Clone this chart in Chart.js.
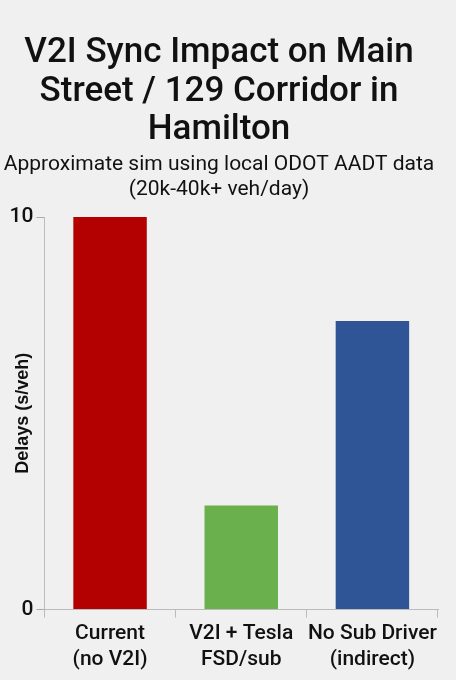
<!DOCTYPE html>
<html>
<head>
<meta charset="utf-8">
<script src="https://cdn.jsdelivr.net/npm/chart.js@4"></script>
<style>
  html, body { margin: 0; padding: 0; background: #f0f0f0; }
  #wrap { width: 456px; height: 680px; }
</style>
</head>
<body>
<div id="wrap"><canvas id="myChart"></canvas></div>
<script>
var categories = [["Current", "(no V2I)"], ["V2I + Tesla", "FSD/sub"], ["No Sub Driver", "(indirect)"]];
var delays = [10, 2.65, 7.35];
var barColors = ["#b30000", "#6ab04c", "#2f5597"];
var yTicks = [0, 10];

var ctx = document.getElementById("myChart").getContext("2d");
var chart = new Chart(ctx, {
  type: "bar",
  data: {
    labels: categories,
    datasets: [
      {
        label: "Delays",
        backgroundColor: barColors,
        data: delays,
        categoryPercentage: 1,
        barPercentage: 0.56
      }
    ]
  },
  options: {
    responsive: true,
    maintainAspectRatio: false,
    animation: false,
    layout: { padding: { left: 0, right: 18, top: 0, bottom: 4 } },
    plugins: {
      legend: { display: false },
      title: {
        display: true,
        text: ["V2I Sync Impact on Main", "Street / 129 Corridor in", "Hamilton"],
        color: "#111",
        font: { family: "Roboto", size: 35, weight: "500", lineHeight: 1.1 },
        padding: { top: 34, bottom: 3 }
      },
      subtitle: {
        display: true,
        text: ["Approximate sim using local ODOT AADT data", "(20k-40k+ veh/day)"],
        color: "#111",
        font: { family: "Roboto", size: 21, lineHeight: 1.18 },
        padding: { bottom: 15 }
      }
    },
    scales: {
      x: {
        grid: { display: true, drawOnChartArea: false, offset: true, tickLength: 8, color: "#bbb" },
        border: { color: "#bbb" },
        ticks: {
          color: "#111",
          font: { family: "Roboto", size: 21, weight: "500" },
          padding: 4,
          maxRotation: 0,
          autoSkip: false
        }
      },
      y: {
        min: 0,
        max: 10,
        afterBuildTicks: function (axis) {
          axis.ticks = yTicks.map(function (v) { return { value: v }; });
        },
        grid: { display: true, drawOnChartArea: false, tickLength: 8, color: "#aaa" },
        border: { color: "#bbb" },
        ticks: { color: "#111", font: { family: "Roboto", size: 21, weight: "500" }, padding: 3 },
        title: {
          display: true,
          text: "Delays (s/veh)",
          color: "#111",
          font: { family: "Liberation Sans", size: 18, weight: "bold" },
          padding: { top: 12, bottom: -27 }
        }
      }
    }
  }
});
</script>
</body>
</html>
